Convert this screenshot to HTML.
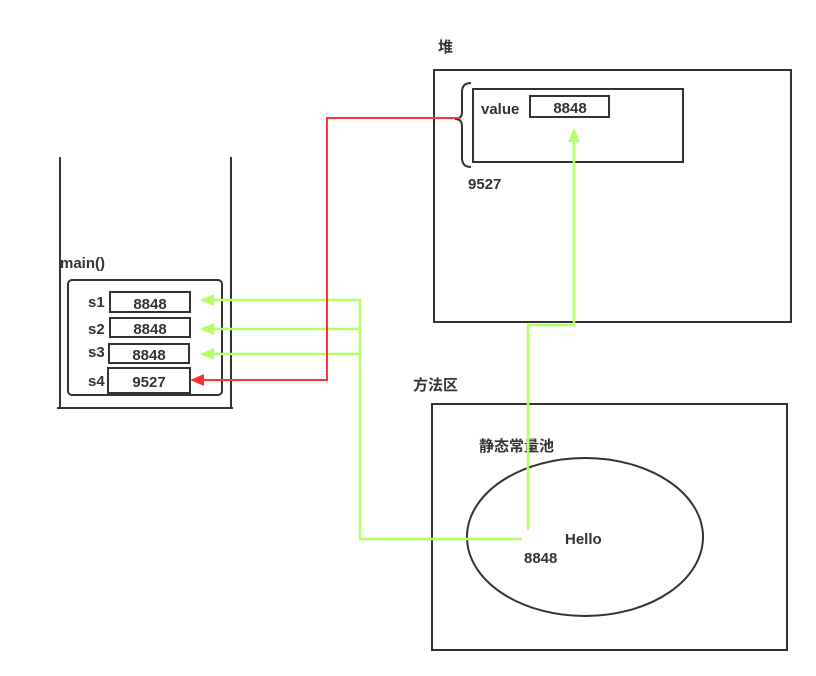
<!DOCTYPE html>
<html><head><meta charset="utf-8"><style>
html,body{margin:0;padding:0;background:#fff;}
svg{display:block;}
text{font-family:"Liberation Sans","Noto Sans CJK SC",sans-serif;font-weight:bold;fill:#333;font-size:15px;}
</style></head><body>
<svg width="816" height="676" viewBox="0 0 816 676">
<defs>
<marker id="ag" markerWidth="14" markerHeight="12" refX="12" refY="6" orient="auto" markerUnits="userSpaceOnUse"><path d="M0,0 L14,6 L0,12 Z" fill="#b3ff66"/></marker>
<marker id="ar" markerWidth="14" markerHeight="12" refX="12" refY="6" orient="auto" markerUnits="userSpaceOnUse"><path d="M0,0 L14,6 L0,12 Z" fill="#ff3333"/></marker>
</defs>
<g stroke="#333" stroke-width="2" fill="none">
<line x1="60" y1="157" x2="60" y2="408"/><line x1="231" y1="157" x2="231" y2="408"/><line x1="57" y1="408" x2="233" y2="408"/>
</g>
<text x="60" y="268">main()</text>
<rect x="68" y="280" width="154" height="115" rx="4" fill="none" stroke="#333" stroke-width="2"/>
<g fill="#fff" stroke="#333" stroke-width="2">
<rect x="110" y="292" width="80" height="20"/>
<rect x="110" y="318" width="80" height="19"/>
<rect x="109" y="344" width="80" height="19"/>
<rect x="108" y="368" width="82" height="25"/>
</g>
<text x="88" y="307">s1</text>
<text x="88" y="334">s2</text>
<text x="88" y="357">s3</text>
<text x="88" y="386">s4</text>
<text x="150" y="309" text-anchor="middle">8848</text>
<text x="150" y="334" text-anchor="middle">8848</text>
<text x="149" y="360" text-anchor="middle">8848</text>
<text x="149" y="387" text-anchor="middle">9527</text>
<text x="438" y="52">堆</text>
<rect x="434" y="70" width="357" height="252" fill="none" stroke="#333" stroke-width="2"/>
<rect x="473" y="89" width="210" height="73" fill="none" stroke="#333" stroke-width="2"/>
<text x="481" y="114">value</text>
<rect x="530" y="96" width="79" height="21" fill="none" stroke="#333" stroke-width="2"/>
<text x="570" y="113" text-anchor="middle">8848</text>
<path d="M471,83 Q462,83 462,92 L462,112 Q462,119 455,119 Q462,119 462,126 L462,158 Q462,167 471,167" fill="none" stroke="#333" stroke-width="2"/>
<text x="468" y="189">9527</text>
<text x="413" y="390">方法区</text>
<rect x="432" y="404" width="355" height="246" fill="none" stroke="#333" stroke-width="2"/>
<text x="479" y="451">静态常量池</text>
<ellipse cx="585" cy="537" rx="118" ry="79" fill="none" stroke="#333" stroke-width="2"/>
<text x="565" y="544">Hello</text>
<text x="524" y="563">8848</text>
<g fill="none" stroke="#b3ff66" stroke-width="2.5">
<path d="M522,539 L360,539 L360,300 L202,300" marker-end="url(#ag)"/>
<path d="M360,329 L202,329" marker-end="url(#ag)"/>
<path d="M360,354 L202,354" marker-end="url(#ag)"/>
<path d="M528,530 L528,325 L574,325 L574,130" marker-end="url(#ag)"/>
</g>
<path d="M460,118 L327,118 L327,380 L192,380" fill="none" stroke="#ff3333" stroke-width="2" marker-end="url(#ar)"/>
</svg>
</body></html>
